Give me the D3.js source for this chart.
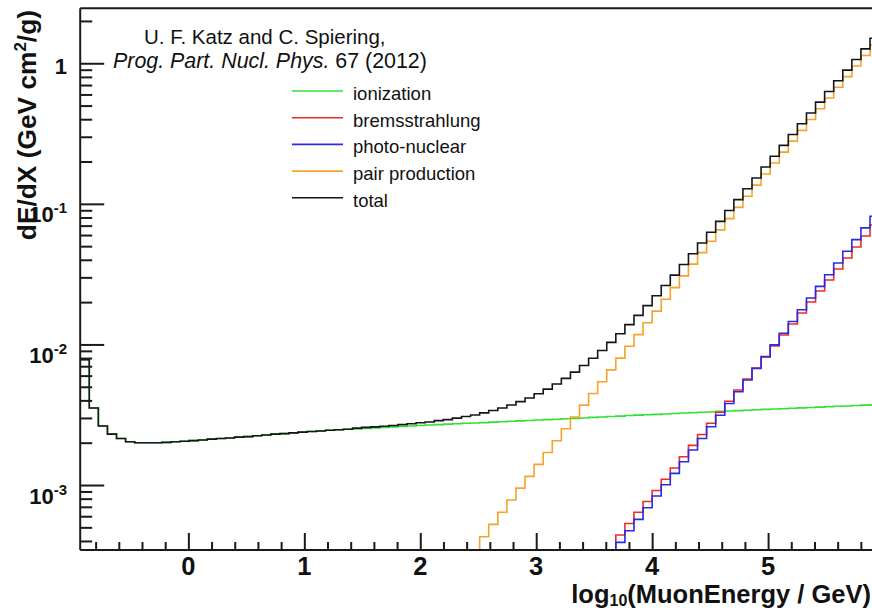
<!DOCTYPE html>
<html>
<head>
<meta charset="utf-8">
<script src="https://cdn.jsdelivr.net/npm/d3@7/dist/d3.min.js"></script>
<style>
  html, body { margin: 0; padding: 0; background: #ffffff; }
  svg { display: block; }
  text { font-family: "Liberation Sans", Arial, Helvetica, sans-serif; fill: #111; }
</style>
</head>
<body>
<svg id="chart" width="872" height="608"></svg>
<script>
// Histogram binning in log10(E / GeV)
const binLow = -0.933;
const binWidth = 0.0783;
const nBins = 88;

// Energy loss per bin, GeV cm^2/g
const ionization = [
  7.8e-3, 3.53e-3, 2.63e-3, 2.30e-3, 2.14e-3, 2.03e-3, 2.00e-3, 2.00e-3, 2.00e-3, 2.01e-3,
  2.03e-3, 2.05e-3, 2.07e-3, 2.09e-3, 2.12e-3, 2.14e-3, 2.16e-3, 2.19e-3, 2.21e-3, 2.24e-3,
  2.27e-3, 2.30e-3, 2.32e-3, 2.35e-3, 2.38e-3, 2.40e-3, 2.42e-3, 2.45e-3, 2.47e-3, 2.49e-3,
  2.51e-3, 2.53e-3, 2.55e-3, 2.57e-3, 2.59e-3, 2.61e-3, 2.63e-3, 2.65e-3, 2.67e-3, 2.69e-3,
  2.71e-3, 2.73e-3, 2.75e-3, 2.76e-3, 2.78e-3, 2.80e-3, 2.82e-3, 2.84e-3, 2.86e-3, 2.88e-3,
  2.90e-3, 2.92e-3, 2.94e-3, 2.96e-3, 2.98e-3, 3.00e-3, 3.03e-3, 3.05e-3, 3.07e-3, 3.09e-3,
  3.12e-3, 3.14e-3, 3.16e-3, 3.18e-3, 3.20e-3, 3.23e-3, 3.25e-3, 3.27e-3, 3.29e-3, 3.31e-3,
  3.34e-3, 3.36e-3, 3.38e-3, 3.40e-3, 3.43e-3, 3.45e-3, 3.47e-3, 3.49e-3, 3.52e-3, 3.54e-3,
  3.56e-3, 3.58e-3, 3.61e-3, 3.63e-3, 3.65e-3, 3.68e-3, 3.70e-3, 3.72e-3
];

const bremsFirstBin = 58;
const bremsstrahlung = [
  3.4e-4, 4.41e-4, 5.32e-4, 6.40e-4, 7.64e-4, 9.14e-4, 1.099e-3, 1.321e-3, 1.589e-3, 1.914e-3,
  2.286e-3, 2.748e-3, 3.291e-3, 3.946e-3, 4.742e-3, 5.675e-3, 6.80e-3, 8.14e-3, 9.75e-3, 1.168e-2,
  1.397e-2, 1.674e-2, 2.004e-2, 2.399e-2, 2.873e-2, 3.440e-2, 4.119e-2, 4.932e-2, 5.906e-2, 7.074e-2
];

const photoFirstBin = 58;
const photoNuclear = [
  3.2e-4, 3.91e-4, 4.73e-4, 5.70e-4, 6.90e-4, 8.35e-4, 1.005e-3, 1.211e-3, 1.465e-3, 1.774e-3,
  2.143e-3, 2.594e-3, 3.139e-3, 3.802e-3, 4.613e-3, 5.585e-3, 6.761e-3, 8.185e-3, 9.93e-3, 1.202e-2,
  1.456e-2, 1.763e-2, 2.137e-2, 2.588e-2, 3.133e-2, 3.793e-2, 4.603e-2, 5.570e-2, 6.745e-2, 8.17e-2
];

const pairFirstBin = 43;
const pairProduction = [
  3.4e-4, 4.29e-4, 5.25e-4, 6.41e-4, 7.82e-4, 9.51e-4, 1.153e-3, 1.403e-3, 1.702e-3, 2.065e-3,
  2.512e-3, 3.048e-3, 3.698e-3, 4.477e-3, 5.433e-3, 6.592e-3, 7.998e-3, 9.705e-3, 1.175e-2, 1.426e-2,
  1.726e-2, 2.094e-2, 2.535e-2, 3.076e-2, 3.724e-2, 4.498e-2, 5.420e-2, 6.531e-2, 7.852e-2, 9.441e-2,
  0.1132, 0.1358, 0.1629, 0.1950, 0.2333, 0.2793, 0.3334, 0.3981, 0.4753, 0.5662,
  0.6745, 0.8035, 0.9550, 1.135, 1.349
];

const total = [
  7.8e-3, 3.53e-3, 2.63e-3, 2.30e-3, 2.14e-3, 2.03e-3, 2.00e-3, 2.00e-3, 2.00e-3, 2.01e-3,
  2.03e-3, 2.05e-3, 2.07e-3, 2.09e-3, 2.12e-3, 2.14e-3, 2.16e-3, 2.19e-3, 2.21e-3, 2.24e-3,
  2.27e-3, 2.30e-3, 2.32e-3, 2.35e-3, 2.38e-3, 2.40e-3, 2.42e-3, 2.45e-3, 2.47e-3, 2.49e-3,
  2.54e-3, 2.57e-3, 2.59e-3, 2.62e-3, 2.65e-3, 2.69e-3, 2.73e-3, 2.77e-3, 2.81e-3, 2.87e-3,
  2.92e-3, 2.99e-3, 3.07e-3, 3.15e-3, 3.26e-3, 3.39e-3, 3.53e-3, 3.71e-3, 3.92e-3, 4.16e-3,
  4.46e-3, 4.81e-3, 5.23e-3, 5.74e-3, 6.35e-3, 7.09e-3, 7.98e-3, 9.06e-3, 1.035e-2, 1.192e-2,
  1.383e-2, 1.610e-2, 1.887e-2, 2.219e-2, 2.624e-2, 3.111e-2, 3.706e-2, 4.420e-2, 5.270e-2, 6.285e-2,
  7.508e-2, 8.963e-2, 0.1071, 0.1279, 0.1528, 0.1827, 0.2182, 0.2605, 0.3114, 0.3713,
  0.4431, 0.5288, 0.6299, 0.7505, 0.8944, 1.0637, 1.2652, 1.5052
];

// Axis ranges and ticks
const xRange = [binLow, binLow + nBins * binWidth];
const yRange = [3.45e-4, 2.46];
const xMajorTicks = [0, 1, 2, 3, 4, 5];
const xMinorTicks = d3.range(-8, 60, 2).map(d => d / 10).filter(d => !Number.isInteger(d));
const yMajorTicks = [1e-3, 1e-2, 1e-1, 1];
const yTickLabels = [["10", "-3"], ["10", "-2"], ["10", "-1"], ["1", ""]];
const yMinorTicks = [];
[1e-4, 1e-3, 1e-2, 1e-1, 1].forEach(dec => {
  for (let m = 2; m <= 9; m++) {
    const v = m * dec;
    if (v >= yRange[0] && v <= yRange[1]) yMinorTicks.push(v);
  }
});

const seriesDefs = [
  { name: "ionization",      first: 0,             values: ionization,     color: "#33e033" },
  { name: "bremsstrahlung",  first: bremsFirstBin, values: bremsstrahlung, color: "#ee2a2a" },
  { name: "photo-nuclear",   first: photoFirstBin, values: photoNuclear,   color: "#2a2ae6" },
  { name: "pair production", first: pairFirstBin,  values: pairProduction, color: "#f7a22c" },
  { name: "total",           first: 0,             values: total,          color: "#151515" }
];

// Frame geometry
const frame = { left: 80.2, right: 879.1, top: 8.3, bottom: 550 };

const svg = d3.select("#chart");
const x = d3.scaleLinear().domain(xRange).range([frame.left, frame.right]);
const y = d3.scaleLog().domain(yRange).range([frame.bottom, frame.top]);
const edge = k => binLow + k * binWidth;

svg.append("defs").append("clipPath").attr("id", "plotClip")
  .append("rect")
  .attr("x", frame.left).attr("y", frame.top - 1)
  .attr("width", frame.right - frame.left).attr("height", frame.bottom - frame.top + 1);

// Step histograms
const stepLine = d3.line()
  .x(d => x(d[0]))
  .y(d => y(Math.max(d[1], yRange[0])))
  .curve(d3.curveStepAfter);

const plot = svg.append("g").attr("clip-path", "url(#plotClip)");
seriesDefs.forEach(s => {
  const pts = [[edge(s.first), yRange[0]]];
  s.values.forEach((v, i) => pts.push([edge(s.first + i), v]));
  pts.push([edge(s.first + s.values.length), s.values[s.values.length - 1]]);
  plot.append("path")
    .attr("d", stepLine(pts))
    .attr("fill", "none")
    .attr("stroke", s.color)
    .attr("stroke-width", 1.6)
    .attr("stroke-linejoin", "miter");
});

// Axis ticks (drawn inside the frame)
const axisStroke = "#1a1a1a";
function styleTicks(g) {
  g.select(".domain").remove();
  g.selectAll(".tick line").attr("stroke", axisStroke).attr("stroke-width", 2);
  g.selectAll(".tick text").remove();
}
svg.append("g").attr("transform", `translate(${frame.left},0)`)
  .call(d3.axisRight(y).tickValues(yMinorTicks).tickSize(12).tickFormat(""))
  .call(styleTicks);
svg.append("g").attr("transform", `translate(${frame.left},0)`)
  .call(d3.axisRight(y).tickValues(yMajorTicks).tickSize(24).tickFormat(""))
  .call(styleTicks);
svg.append("g").attr("transform", `translate(0,${frame.bottom})`)
  .call(d3.axisTop(x).tickValues(xMinorTicks).tickSize(8).tickFormat(""))
  .call(styleTicks);
svg.append("g").attr("transform", `translate(0,${frame.bottom})`)
  .call(d3.axisTop(x).tickValues(xMajorTicks).tickSize(17).tickFormat(""))
  .call(styleTicks);

// Frame
const frameG = svg.append("g").attr("stroke", axisStroke).attr("stroke-width", 2).attr("fill", "none");
frameG.append("line").attr("x1", frame.left).attr("x2", frame.right).attr("y1", frame.top).attr("y2", frame.top);
frameG.append("line").attr("x1", frame.left).attr("x2", frame.right).attr("y1", frame.bottom).attr("y2", frame.bottom);
frameG.append("line").attr("x1", frame.left).attr("x2", frame.left).attr("y1", frame.top).attr("y2", frame.bottom);
frameG.append("line").attr("x1", frame.right).attr("x2", frame.right).attr("y1", frame.top).attr("y2", frame.bottom);

// Tick labels
xMajorTicks.forEach(v => {
  svg.append("text")
    .attr("x", x(v)).attr("y", 574.5)
    .attr("text-anchor", "middle")
    .attr("font-size", 25.5).attr("font-weight", "bold")
    .text(v);
});
yMajorTicks.forEach((v, i) => {
  const [base, expo] = yTickLabels[i];
  const t = svg.append("text")
    .attr("x", 67)
    .attr("text-anchor", "end")
    .attr("font-size", 22).attr("font-weight", "bold");
  if (expo) {
    t.attr("y", y(v) + 18.5).text(base);
    t.append("tspan").attr("dy", -9).attr("font-size", 15).text(expo);
  } else {
    t.attr("y", y(v) + 10.7).text(base);
  }
});

// Axis titles
const xTitle = svg.append("text")
  .attr("x", 871).attr("y", 603)
  .attr("text-anchor", "end")
  .attr("font-size", 25.5).attr("font-weight", "bold");
xTitle.append("tspan").text("log");
xTitle.append("tspan").attr("dy", 3).attr("font-size", 16).text("10");
xTitle.append("tspan").attr("dy", -3).text("(MuonEnergy / GeV)");

const yTitle = svg.append("text")
  .attr("transform", "translate(36,10) rotate(-90)")
  .attr("text-anchor", "end")
  .attr("font-size", 26.3).attr("font-weight", "bold");
yTitle.append("tspan").text("dE/dX (GeV cm");
yTitle.append("tspan").attr("dy", -10).attr("font-size", 17).text("2");
yTitle.append("tspan").attr("dy", 10).text("/g)");

// Reference note
svg.append("text")
  .attr("x", 144).attr("y", 44)
  .attr("font-size", 20.5).attr("fill", "#222")
  .text("U. F. Katz and C. Spiering,");
const ref2 = svg.append("text")
  .attr("x", 113).attr("y", 68)
  .attr("font-size", 21.4).attr("fill", "#222");
ref2.append("tspan").attr("font-style", "italic").text("Prog. Part. Nucl. Phys.");
ref2.append("tspan").text(" 67 (2012)");

// Legend
const legend = svg.append("g");
seriesDefs.forEach((s, i) => {
  const ly = 91 + i * 26.7;
  legend.append("line")
    .attr("x1", 292).attr("x2", 343).attr("y1", ly).attr("y2", ly)
    .attr("stroke", s.color).attr("stroke-width", 1.6);
  legend.append("text")
    .attr("x", 353).attr("y", ly + 9)
    .attr("font-size", 18.5).attr("fill", "#222")
    .text(s.name);
});
</script>
</body>
</html>
